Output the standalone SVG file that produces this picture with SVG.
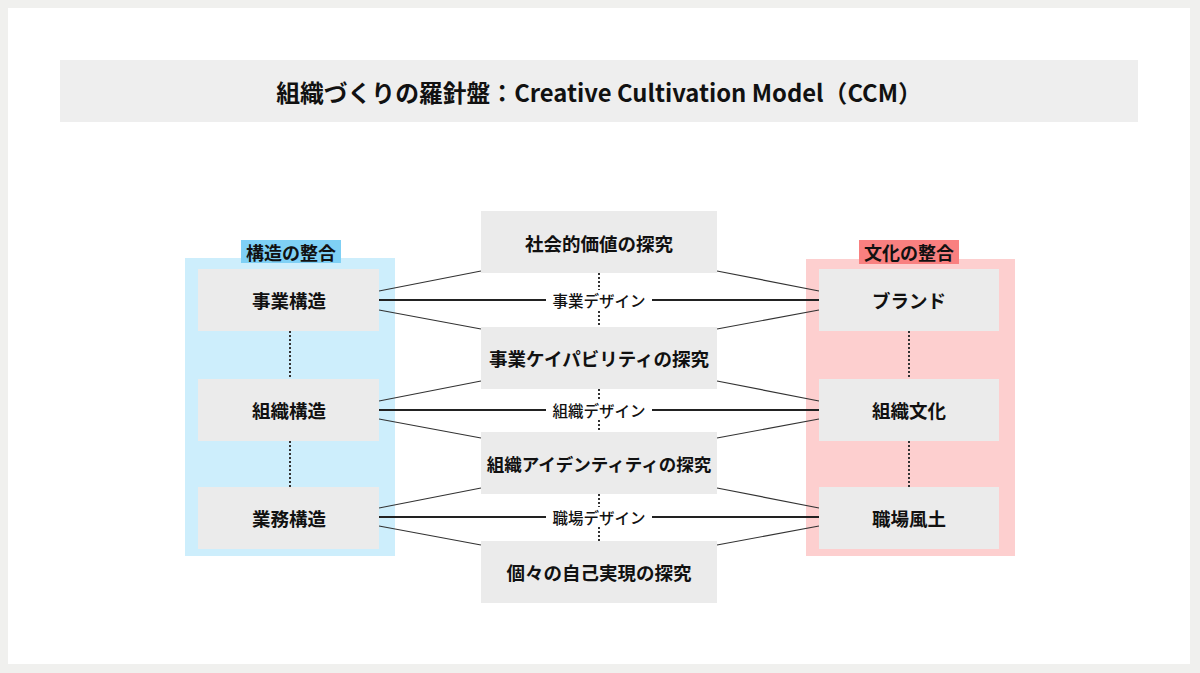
<svg xmlns="http://www.w3.org/2000/svg" width="1200" height="673" viewBox="0 0 1200 673">
<style>
.t{font-family:"Noto Sans CJK JP","Noto Sans",sans-serif;font-weight:700;fill:#111;text-anchor:middle;dominant-baseline:central}
.n{font-size:18.5px}
.box{fill:#ebebeb}
.d{font-family:"Noto Sans CJK JP","Noto Sans",sans-serif;font-size:15.5px;font-weight:500;fill:#111;text-anchor:middle;dominant-baseline:central}
.h{stroke:#222;stroke-width:2;fill:none}
.g{stroke:#333;stroke-width:1.2;fill:none}
.dot{stroke:#333;stroke-width:2;stroke-dasharray:2 2;fill:none}
</style>
<rect x="0" y="0" width="1200" height="673" fill="#f0f0ee"/>
<rect x="8" y="8" width="1182" height="656" fill="#ffffff"/>
<g id="title">
<rect x="60" y="60" width="1078" height="62" fill="#eeeeee"/>
<text class="t" x="599" y="91" font-size="23.8">組織づくりの羅針盤：Creative Cultivation Model（CCM）</text>
</g>
<g id="structure-group">
<rect x="185" y="258" width="210" height="298" fill="#cdeefc"/>
<rect x="241" y="240" width="100" height="23" fill="#7fd0f5"/>
<text class="t" x="291" y="252" font-size="18">構造の整合</text>
</g>
<g id="culture-group">
<rect x="806" y="259" width="209" height="297" fill="#fdcfcf"/>
<rect x="859" y="240" width="100" height="24" fill="#f98080"/>
<text class="t" x="909" y="252" font-size="18">文化の整合</text>
</g>
<g id="connectors">
<line class="dot" x1="290" y1="331" x2="290" y2="379"/>
<line class="dot" x1="290" y1="441" x2="290" y2="487"/>
<line class="dot" x1="909" y1="331" x2="909" y2="379"/>
<line class="dot" x1="909" y1="441" x2="909" y2="487"/>
<line class="dot" x1="599" y1="273" x2="599" y2="290"/>
<line class="dot" x1="599" y1="311" x2="599" y2="327"/>
<line class="dot" x1="599" y1="389" x2="599" y2="400"/>
<line class="dot" x1="599" y1="420" x2="599" y2="432"/>
<line class="dot" x1="599" y1="494" x2="599" y2="507"/>
<line class="dot" x1="599" y1="527" x2="599" y2="541"/>
<line class="h" x1="379" y1="300" x2="546" y2="300"/>
<line class="h" x1="652" y1="300" x2="819" y2="300"/>
<line class="h" x1="379" y1="410" x2="546" y2="410" stroke="#555"/>
<line class="h" x1="652" y1="410" x2="819" y2="410" stroke="#555"/>
<line class="h" x1="379" y1="517" x2="546" y2="517"/>
<line class="h" x1="652" y1="517" x2="819" y2="517"/>
<line class="g" x1="379" y1="291" x2="481" y2="271"/>
<line class="g" x1="379" y1="310" x2="481" y2="329"/>
<line class="g" x1="379" y1="401" x2="481" y2="381"/>
<line class="g" x1="379" y1="419" x2="481" y2="438"/>
<line class="g" x1="379" y1="508" x2="481" y2="488"/>
<line class="g" x1="379" y1="526" x2="481" y2="545"/>
<line class="g" x1="717" y1="271" x2="819" y2="291"/>
<line class="g" x1="717" y1="329" x2="819" y2="310"/>
<line class="g" x1="717" y1="381" x2="819" y2="401"/>
<line class="g" x1="717" y1="438" x2="819" y2="419"/>
<line class="g" x1="717" y1="488" x2="819" y2="508"/>
<line class="g" x1="717" y1="545" x2="819" y2="526"/>
<text class="d" x="599" y="300">事業デザイン</text>
<text class="d" x="599" y="410">組織デザイン</text>
<text class="d" x="599" y="517">職場デザイン</text>
</g>
<g id="business-structure"><rect class="box" x="198" y="269" width="181" height="62"/><text class="t n" x="289" y="300">事業構造</text></g>
<g id="org-structure"><rect class="box" x="198" y="379" width="181" height="62"/><text class="t n" x="289" y="410">組織構造</text></g>
<g id="work-structure"><rect class="box" x="198" y="487" width="181" height="62"/><text class="t n" x="289" y="518">業務構造</text></g>
<g id="brand"><rect class="box" x="819" y="269" width="180" height="62"/><text class="t n" x="909" y="300">ブランド</text></g>
<g id="org-culture"><rect class="box" x="819" y="379" width="180" height="62"/><text class="t n" x="909" y="410">組織文化</text></g>
<g id="workplace"><rect class="box" x="819" y="487" width="180" height="62"/><text class="t n" x="909" y="518">職場風土</text></g>
<g id="social-value"><rect class="box" x="481" y="211" width="236" height="62"/><text class="t n" x="599" y="243">社会的価値の探究</text></g>
<g id="business-capability"><rect class="box" x="481" y="327" width="236" height="62"/><text class="t n" x="599" y="358">事業ケイパビリティの探究</text></g>
<g id="org-identity"><rect class="box" x="481" y="432" width="236" height="62"/><text class="t" x="599" y="463" style="font-size:17.5px">組織アイデンティティの探究</text></g>
<g id="self-realization"><rect class="box" x="481" y="541" width="236" height="62"/><text class="t n" x="599" y="572">個々の自己実現の探究</text></g>
</svg>
